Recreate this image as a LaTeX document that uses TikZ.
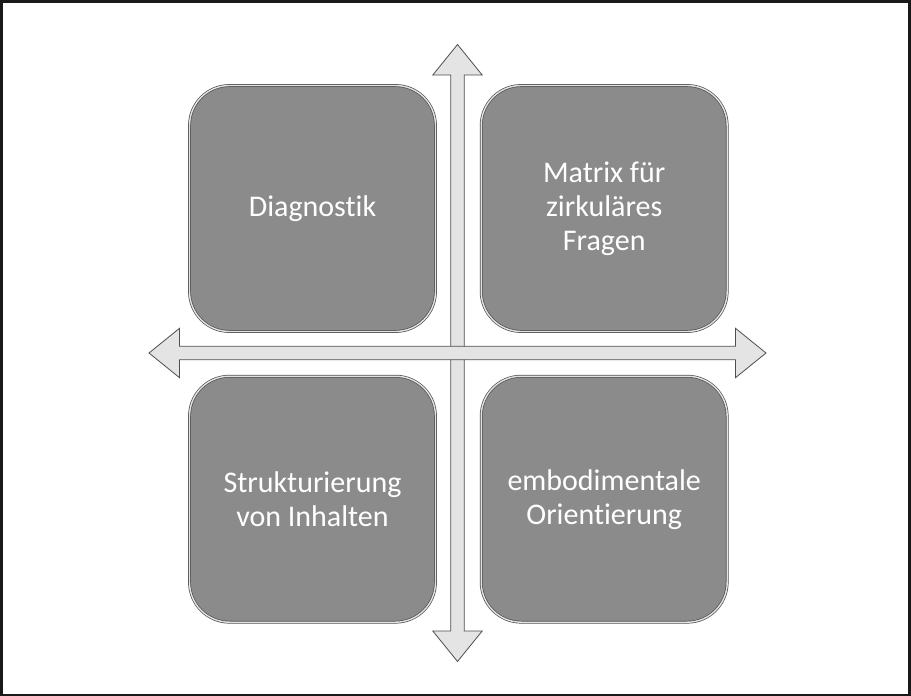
\documentclass[tikz,border=0pt]{standalone}
\usepackage{fontspec}
\setmainfont{Carlito}[Ligatures={NoCommon}]
\usepackage{tikz}
\usetikzlibrary{positioning, shapes.arrows}
\definecolor{boxgray}{HTML}{8B8B8B}
\definecolor{rimgray}{HTML}{4E4E4E}
\definecolor{axisfill}{HTML}{E4E4E4}
\tikzstyle{quad} = [rectangle, rounded corners=40pt, fill=boxgray, draw=rimgray, line width=0.7pt, double=white!75!boxgray, double distance=1.4pt, minimum width=246pt, minimum height=246pt, align=center, text=white, font=\fontsize{30}{34}\selectfont]
\tikzstyle{axis} = [double arrow, fill=axisfill, draw=rimgray, line width=0.8pt, inner sep=6.3pt, double arrow head extend=18pt, double arrow tip angle=78, minimum height=617pt]
\tikzstyle{frame} = [line width=2.5pt, draw=black!90]

\begin{document}
\begin{tikzpicture}[x=1pt, y=-1pt, node distance = 44pt and 45pt]

\useasboundingbox (0,0) rectangle (911,696);
\draw[frame] (1.25,1.25) rectangle (909.25,694.75);

\node(V)[axis, rotate=90] at (457.5,353) {};
\node(H)[axis] at (457.5,353) {};
\node(X)[fill=axisfill, inner sep=0pt, minimum width=12.4pt, minimum height=11.4pt] at (H.center) {};

\node(D)[quad] at (312.5,208.5) {Diagnostik};
\node(M)[quad, right = of D] {Matrix für\\zirkuläres\\Fragen};
\node(S)[quad, below = of D] {Strukturierung\\von Inhalten};
\node(E)[quad, below = of M] {embodimentale\\Orientierung};

\end{tikzpicture}
\end{document}
